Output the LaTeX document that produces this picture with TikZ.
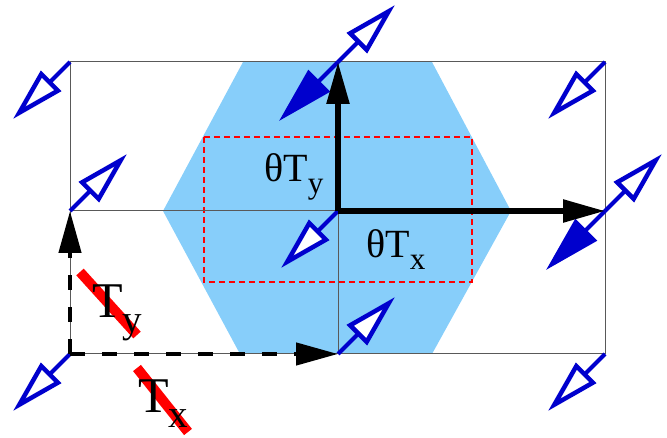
\documentclass[tikz,border=0pt]{standalone}
\usepackage{fontspec}
\setmainfont{Liberation Serif}
\usetikzlibrary{arrows.meta}
\definecolor{hexblue}{RGB}{135,206,250}
\definecolor{vecblue}{RGB}{0,0,205}
\newcommand{\lowsub}[1]{\raisebox{-0.3em}{\scalebox{0.78}{#1}}}
\begin{document}
\begin{tikzpicture}[x=1pt, y=-1pt, gridline/.style={draw=black!65, line width=1pt}, openvec/.style={draw=vecblue, line width=4pt, -{Triangle[open, fill=white, length=54pt, width=28pt, line width=4.5pt]}}, fullvec/.style={draw=vecblue, line width=4pt, -{Triangle[length=57pt, width=30pt]}}, basisvec/.style={line width=5.5pt, -{Triangle[length=42pt, width=22pt]}}, shiftvec/.style={line width=4.5pt, dash pattern=on 15pt off 17pt, -{Triangle[length=42pt, width=22pt]}}, cutbar/.style={draw=red, line width=10pt}, thlabel/.style={font=\fontsize{40}{48}\selectfont, inner sep=0pt, anchor=base west}, tlabel/.style={font=\fontsize{50}{60}\selectfont, inner sep=0pt, anchor=base west}]

		\useasboundingbox (0,0) rectangle (667,438);

		\coordinate (g00) at (70,62);
		\coordinate (g10) at (338,62);
		\coordinate (g20) at (605,62);
		\coordinate (g01) at (70,211);
		\coordinate (g11) at (338,211);
		\coordinate (g21) at (605,211);
		\coordinate (g02) at (70,354);
		\coordinate (g12) at (338,354);
		\coordinate (g22) at (605,354);

		\fill[hexblue] (243,62) -- (432,62) -- (511,211) -- (432,354) -- (240,354) -- (163,211) -- cycle;

		\draw[red, line width=1.5pt, dash pattern=on 6pt off 4pt] (204,137) rectangle (472,282);

		\draw[gridline] (g00) rectangle (g22);
		\draw[gridline] (g01) -- (g21);
		\draw[gridline] (g10) -- (g12);

		\draw[openvec] (g00) -- ++(-57,57);
		\draw[openvec] (g10) -- ++(57,-57);
		\draw[fullvec] (g10) -- ++(-59,59);
		\draw[openvec] (g20) -- ++(-57,57);
		\draw[openvec] (g01) -- ++(57,-57);
		\draw[openvec] (g11) -- ++(-57,57);
		\draw[openvec] (g21) -- ++(57,-57);
		\draw[fullvec] (g21) -- ++(-59,59);
		\draw[openvec] (g02) -- ++(-57,57);
		\draw[openvec] (g12) -- ++(57,-57);
		\draw[openvec] (g22) -- ++(-57,57);

		\draw[basisvec] (g11) -- (g21);
		\draw[basisvec] (g11) -- (g10);

		\draw[shiftvec] (g02) -- (g12);
		\draw[shiftvec] (g02) -- (g01);

		\node[thlabel] (thty) at (264,182) {θT\lowsub{y}};
		\node[thlabel] (thtx) at (366,258) {θT\lowsub{x}};

		\draw[cutbar] (80,272) -- (137,335);
		\node[tlabel] (ty) at (92,318) {T\lowsub{y}};

		\draw[cutbar] (137,368) -- (188,432);
		\node[tlabel] (tx) at (138,412) {T\lowsub{x}};

	\end{tikzpicture}
\end{document}
